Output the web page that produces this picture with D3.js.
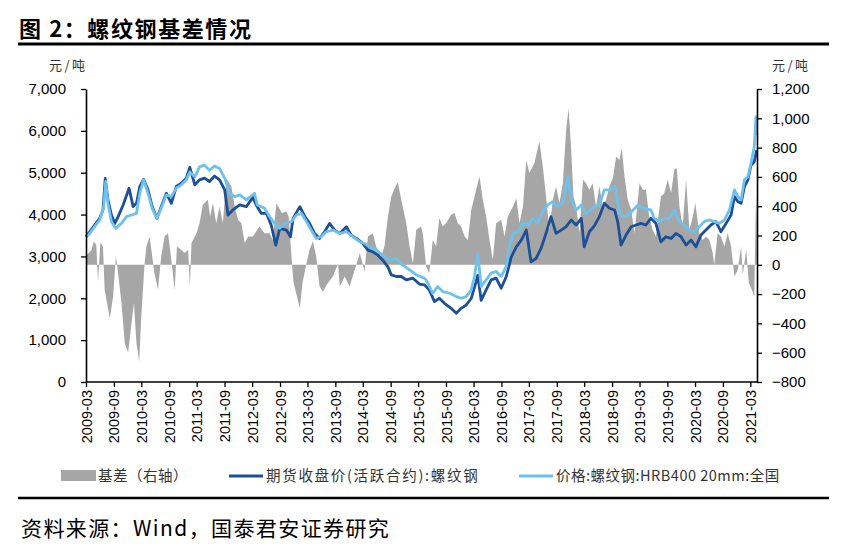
<!DOCTYPE html>
<html><head><meta charset="utf-8">
<script src="https://cdn.jsdelivr.net/npm/d3@7/dist/d3.min.js"></script>
<style>
body{margin:0;background:#fff;}
svg{display:block;}
text{font-family:"Liberation Sans",Arial,"Noto Sans CJK SC",sans-serif;}
.cjk{font-family:"Noto Sans CJK SC","Liberation Sans",sans-serif;}
</style></head>
<body>
<svg id="c" width="846" height="558"></svg>
<script>
const titleText = "图 2：螺纹钢基差情况";
const sourceText = "资料来源：Wind，国泰君安证券研究";
const unitText = "元/吨";
const legendLabels = ["基差（右轴）", "期货收盘价(活跃合约):螺纹钢", "价格:螺纹钢:HRB400 20mm:全国"];
const xTickLabels = ["2009-03","2009-09","2010-03","2010-09","2011-03","2011-09","2012-03","2012-09","2013-03","2013-09","2014-03","2014-09","2015-03","2015-09","2016-03","2016-09","2017-03","2017-09","2018-03","2018-09","2019-03","2019-09","2020-03","2020-09","2021-03"];
const leftTicks = [0,1000,2000,3000,4000,5000,6000,7000];
const rightTicks = [-800,-600,-400,-200,0,200,400,600,800,1000,1200];

// 期货收盘价(活跃合约):螺纹钢
const futures = [["2009-03-01",3470],["2009-03-25",3590],["2009-04-27",3750],["2009-05-30",3910],["2009-06-21",4110],["2009-07-06",4865],["2009-07-24",4350],["2009-08-16",3990],["2009-09-07",3790],["2009-09-29",3950],["2009-11-01",4230],["2009-12-10",4630],["2010-01-06",4190],["2010-01-28",4270],["2010-02-19",4670],["2010-03-16",4840],["2010-04-14",4590],["2010-05-12",4190],["2010-06-12",3910],["2010-07-10",4190],["2010-08-13",4510],["2010-09-15",4270],["2010-10-18",4670],["2010-11-20",4750],["2010-12-23",4870],["2011-01-15",5130],["2011-02-17",4710],["2011-03-20",4830],["2011-04-22",4870],["2011-05-25",4790],["2011-06-27",4920],["2011-07-30",4830],["2011-09-02",4590],["2011-09-24",3990],["2011-10-26",4110],["2011-12-10",4230],["2012-01-23",4190],["2012-03-06",4410],["2012-03-28",4230],["2012-04-30",4030],["2012-06-03",4030],["2012-07-05",3750],["2012-08-04",3270],["2012-08-30",3670],["2012-10-13",3630],["2012-11-09",3470],["2012-11-26",3910],["2013-01-10",4190],["2013-02-12",3950],["2013-03-15",3790],["2013-04-17",3550],["2013-05-20",3430],["2013-06-22",3590],["2013-07-25",3790],["2013-08-27",3630],["2013-09-30",3550],["2013-11-13",3710],["2013-12-15",3510],["2014-01-18",3430],["2014-03-01",3310],["2014-04-04",3150],["2014-05-06",3110],["2014-06-09",3030],["2014-07-11",2910],["2014-08-14",2750],["2014-09-05",2560],["2014-10-08",2520],["2014-11-10",2520],["2014-12-13",2440],["2015-01-26",2480],["2015-03-09",2340],["2015-04-12",2320],["2015-05-14",2200],["2015-06-17",1920],["2015-07-19",2000],["2015-08-22",1880],["2015-10-05",1760],["2015-11-08",1640],["2015-12-10",1760],["2016-01-13",1840],["2016-02-15",2000],["2016-03-18",2400],["2016-03-29",2550],["2016-04-20",1950],["2016-05-23",2200],["2016-06-25",2440],["2016-07-28",2480],["2016-08-30",2240],["2016-10-03",2520],["2016-11-05",2990],["2016-12-08",3230],["2017-01-10",3390],["2017-02-12",3630],["2017-03-15",2870],["2017-04-17",2950],["2017-05-20",3190],["2017-06-22",3550],["2017-07-25",3950],["2017-08-27",3550],["2017-09-30",3630],["2017-11-02",3710],["2017-12-05",3870],["2018-01-07",3750],["2018-02-10",3910],["2018-03-01",3230],["2018-04-04",3590],["2018-05-07",3730],["2018-06-09",3950],["2018-07-12",4270],["2018-08-14",4150],["2018-09-17",4110],["2018-10-08",3830],["2018-10-30",3270],["2018-12-02",3510],["2019-01-05",3710],["2019-02-07",3750],["2019-03-10",3790],["2019-04-12",3750],["2019-05-15",3910],["2019-06-17",3790],["2019-07-20",3350],["2019-08-22",3470],["2019-09-25",3430],["2019-10-27",3550],["2019-11-30",3470],["2020-01-02",3270],["2020-02-04",3390],["2020-03-07",3230],["2020-04-09",3510],["2020-05-12",3630],["2020-06-14",3750],["2020-07-17",3830],["2020-08-19",3590],["2020-09-22",3790],["2020-10-25",3990],["2020-11-16",4430],["2020-12-08",4310],["2020-12-30",4270],["2021-01-21",4670],["2021-02-13",4830],["2021-03-05",5180],["2021-03-27",5260],["2021-04-12",5540]];

// 价格:螺纹钢:HRB400 20mm:全国
const spot = [["2009-03-01",3450],["2009-03-25",3550],["2009-04-27",3710],["2009-05-30",3870],["2009-06-26",4190],["2009-07-09",4790],["2009-07-24",4270],["2009-08-16",3830],["2009-09-14",3670],["2009-10-21",3790],["2009-11-23",3950],["2009-12-26",3990],["2010-01-28",4030],["2010-02-19",4510],["2010-03-16",4830],["2010-04-14",4510],["2010-05-12",4150],["2010-06-12",3910],["2010-07-10",4150],["2010-08-13",4470],["2010-09-15",4430],["2010-10-18",4630],["2010-11-20",4710],["2010-12-23",4830],["2011-01-15",5020],["2011-02-17",4900],["2011-03-20",5140],["2011-04-22",5180],["2011-05-25",5060],["2011-06-27",5160],["2011-07-30",5100],["2011-09-02",4870],["2011-10-05",4510],["2011-11-07",4430],["2011-12-10",4470],["2012-01-23",4350],["2012-03-17",4510],["2012-04-03",4230],["2012-05-22",4150],["2012-06-24",3950],["2012-07-27",3790],["2012-08-30",3670],["2012-10-02",3790],["2012-11-16",3830],["2012-12-18",3990],["2013-01-20",4030],["2013-02-23",3830],["2013-03-26",3630],["2013-04-28",3430],["2013-05-30",3470],["2013-07-03",3590],["2013-08-16",3630],["2013-09-30",3550],["2013-11-13",3590],["2013-12-26",3470],["2014-02-10",3350],["2014-03-12",3310],["2014-04-14",3230],["2014-05-28",3150],["2014-07-11",3030],["2014-08-24",2910],["2014-10-08",2950],["2014-11-21",2790],["2015-01-04",2680],["2015-02-17",2560],["2015-04-12",2480],["2015-04-23",2440],["2015-06-06",2120],["2015-07-08",2280],["2015-08-11",2160],["2015-09-24",2120],["2015-11-08",2040],["2015-12-10",2000],["2016-01-13",2040],["2016-02-15",2200],["2016-03-07",2520],["2016-03-29",3070],["2016-04-20",2280],["2016-05-23",2440],["2016-06-25",2600],["2016-07-28",2640],["2016-08-30",2520],["2016-10-03",2760],["2016-10-24",3230],["2016-11-16",3550],["2016-12-18",3590],["2017-01-21",3790],["2017-02-23",3750],["2017-03-26",3910],["2017-04-28",3790],["2017-06-01",4070],["2017-07-03",4230],["2017-08-06",4310],["2017-09-08",4190],["2017-10-11",4270],["2017-11-13",4905],["2017-12-05",4350],["2018-01-07",4110],["2018-02-10",4230],["2018-03-13",4030],["2018-05-07",4190],["2018-06-09",4230],["2018-07-12",4590],["2018-08-14",4590],["2018-09-17",4670],["2018-09-28",4590],["2018-10-19",4030],["2018-11-13",3950],["2018-12-16",3990],["2019-01-18",4110],["2019-02-20",4230],["2019-03-23",4150],["2019-05-15",4110],["2019-06-06",3910],["2019-07-09",3830],["2019-08-11",3910],["2019-09-14",3910],["2019-10-16",4110],["2019-11-19",3830],["2019-12-21",3750],["2020-01-24",3630],["2020-02-26",3590],["2020-03-29",3710],["2020-05-01",3830],["2020-06-04",3870],["2020-07-06",3830],["2020-08-09",3790],["2020-09-11",3870],["2020-10-14",4110],["2020-11-16",4590],["2020-12-08",4430],["2020-12-30",4350],["2021-01-21",4830],["2021-02-13",4905],["2021-03-05",5220],["2021-03-27",5620],["2021-04-07",6340],["2021-04-12",5900]];

// 基差（右轴）
const basis = [["2009-03-01",-60],["2009-03-08",70],["2009-04-06",100],["2009-04-21",160],["2009-05-08",135],["2009-05-19",-115],["2009-06-04",150],["2009-06-21",125],["2009-07-02",-170],["2009-08-05",-365],["2009-08-27",-215],["2009-09-14",57],["2009-09-29",-57],["2009-10-21",-260],["2009-11-12",-535],["2009-12-04",-600],["2009-12-26",-400],["2010-01-11",-260],["2010-01-28",-535],["2010-02-15",-660],["2010-03-01",-350],["2010-03-22",0],["2010-04-03",125],["2010-04-25",193],["2010-05-12",57],["2010-05-27",-57],["2010-06-19",-170],["2010-07-10",57],["2010-08-02",193],["2010-08-24",216],["2010-09-15",34],["2010-10-07",-170],["2010-10-22",125],["2010-11-20",102],["2010-12-12",80],["2011-01-04",102],["2011-01-15",-148],["2011-01-26",148],["2011-02-28",216],["2011-03-20",284],["2011-04-11",410],["2011-05-14",444],["2011-05-29",330],["2011-06-16",420],["2011-07-08",284],["2011-07-30",398],["2011-08-21",284],["2011-09-13",590],["2011-10-16",535],["2011-11-07",398],["2011-11-29",307],["2011-12-21",284],["2012-01-12",148],["2012-02-04",193],["2012-03-06",193],["2012-04-19",262],["2012-05-22",216],["2012-06-24",216],["2012-07-16",170],["2012-08-08",420],["2012-09-13",353],["2012-10-13",364],["2012-10-28",330],["2012-11-22",-34],["2012-11-30",-125],["2012-12-22",-216],["2013-01-10",-296],["2013-01-27",-125],["2013-02-23",11],["2013-03-15",102],["2013-04-06",160],["2013-04-28",57],["2013-05-20",-148],["2013-06-11",-182],["2013-07-14",-125],["2013-08-16",-80],["2013-09-19",11],["2013-09-30",-148],["2013-11-02",-80],["2013-12-04",-148],["2014-01-07",-34],["2014-02-10",80],["2014-03-12",-45],["2014-04-04",193],["2014-05-06",216],["2014-05-28",125],["2014-07-01",57],["2014-07-22",125],["2014-08-14",330],["2014-09-05",466],["2014-10-08",546],["2014-10-19",560],["2014-11-10",444],["2014-12-13",284],["2015-01-04",125],["2015-01-26",11],["2015-02-17",239],["2015-03-20",262],["2015-04-01",216],["2015-04-23",-11],["2015-05-14",-57],["2015-06-06",170],["2015-06-28",125],["2015-07-19",318],["2015-08-11",262],["2015-09-02",284],["2015-10-05",341],["2015-10-27",353],["2015-11-18",284],["2015-12-10",262],["2016-01-02",193],["2016-01-24",170],["2016-02-15",375],["2016-03-18",512],["2016-04-09",603],["2016-05-01",444],["2016-05-23",330],["2016-06-14",170],["2016-07-06",34],["2016-07-28",284],["2016-08-30",307],["2016-09-22",193],["2016-10-13",330],["2016-11-16",398],["2016-12-08",455],["2016-12-29",284],["2017-01-21",398],["2017-02-12",716],["2017-03-04",626],["2017-04-06",694],["2017-05-09",842],["2017-06-01",671],["2017-06-22",466],["2017-07-14",239],["2017-08-06",444],["2017-08-27",535],["2017-09-19",421],["2017-10-11",557],["2017-11-02",921],["2017-11-18",1069],["2017-12-05",785],["2017-12-20",466],["2018-01-07",398],["2018-01-29",216],["2018-02-21",580],["2018-03-13",557],["2018-04-04",512],["2018-04-26",557],["2018-05-18",398],["2018-06-09",535],["2018-07-01",398],["2018-07-23",444],["2018-08-14",535],["2018-09-06",592],["2018-09-28",739],["2018-10-19",716],["2018-11-04",796],["2018-11-22",603],["2018-12-13",444],["2019-01-05",375],["2019-01-27",216],["2019-03-01",557],["2019-03-23",512],["2019-04-12",512],["2019-05-04",330],["2019-05-26",239],["2019-06-17",193],["2019-07-20",466],["2019-08-11",489],["2019-09-03",580],["2019-09-25",489],["2019-10-16",648],["2019-11-02",660],["2019-11-19",398],["2019-12-11",262],["2020-01-02",580],["2020-01-24",239],["2020-02-16",330],["2020-03-03",421],["2020-03-29",216],["2020-04-20",170],["2020-05-12",193],["2020-06-04",170],["2020-06-26",80],["2020-07-06",0],["2020-07-28",216],["2020-08-19",193],["2020-09-11",125],["2020-10-03",216],["2020-10-25",125],["2020-11-16",-80],["2020-12-08",-34],["2020-12-30",125],["2021-01-10",-68],["2021-02-02",102],["2021-02-19",-125],["2021-03-11",-170],["2021-03-27",-216],["2021-04-07",466],["2021-04-12",300]];

const parse = d3.timeParse("%Y-%m-%d");
const parseM = d3.timeParse("%Y-%m");
const svg = d3.select("#c");
const W = 846, H = 558;
const L = 86, R = 757, T = 89, B = 382;

svg.append("rect").attr("width", W).attr("height", H).attr("fill", "#fff");

const x = d3.scaleTime().domain([parse("2009-03-01"), parse("2021-04-14")]).range([L, R]);
const yL = d3.scaleLinear().domain([0, 7000]).range([B, T]);
const yR = d3.scaleLinear().domain([-800, 1200]).range([B, T]);

// title
svg.append("text").attr("class", "cjk").attr("x", 19).attr("y", 37)
  .attr("font-size", 22).attr("font-weight", 700).attr("letter-spacing", 1.6).attr("fill", "#000").text(titleText);
svg.append("line").attr("x1", 18).attr("x2", 829).attr("y1", 44).attr("y2", 44)
  .attr("stroke", "#000").attr("stroke-width", 3);

// basis area
const area = d3.area().x(d => x(parse(d[0]))).y0(yR(0)).y1(d => yR(d[1]));
svg.append("path").datum(basis).attr("d", area).attr("fill", "#a6a6a6");

const line = d3.line().x(d => x(parse(d[0]))).y(d => yL(d[1]));
svg.append("path").datum(futures).attr("d", line).attr("fill", "none")
  .attr("stroke", "#1d4f96").attr("stroke-width", 2.8).attr("stroke-linejoin", "round");
svg.append("path").datum(spot).attr("d", line).attr("fill", "none")
  .attr("stroke", "#6ec1ec").attr("stroke-width", 2.8).attr("stroke-linejoin", "round");

// axes
function styleAxis(g) {
  g.selectAll("path.domain").attr("stroke", "#000").attr("stroke-width", 1.6);
  g.selectAll(".tick line").attr("stroke", "#000").attr("stroke-width", 1.3);
  g.selectAll("text").attr("fill", "#000").style("font-family", '"Liberation Sans",Arial,sans-serif');
}
const gL = svg.append("g").attr("transform", `translate(${L},0)`)
  .call(d3.axisLeft(yL).tickValues(leftTicks).tickFormat(d3.format(",")).tickSize(5).tickPadding(15).tickSizeOuter(0));
styleAxis(gL); gL.selectAll("text").attr("font-size", 15);

const gR = svg.append("g").attr("transform", `translate(${R},0)`)
  .call(d3.axisRight(yR).tickValues(rightTicks).tickFormat(d3.format(",")).tickSize(5).tickPadding(10).tickSizeOuter(0));
styleAxis(gR); gR.selectAll("text").attr("font-size", 15);

const gB = svg.append("g").attr("transform", `translate(0,${B})`)
  .call(d3.axisBottom(x).tickValues(xTickLabels.map(parseM)).tickFormat(d3.timeFormat("%Y-%m")).tickSize(5).tickSizeOuter(0));
styleAxis(gB);
gB.select("path.domain").attr("d", `M${L},0H${R}`);
gB.selectAll(".tick text").attr("font-size", 14.5).attr("y", 0).attr("x", -8).attr("dy", "0.35em")
  .attr("transform", "rotate(-90)").style("text-anchor", "end");

// units
svg.append("text").attr("class", "cjk").attr("x", 49).attr("y", 70).attr("font-size", 13).attr("letter-spacing", 2.5).attr("fill", "#333").text(unitText);
svg.append("text").attr("class", "cjk").attr("x", 772).attr("y", 70).attr("font-size", 13).attr("letter-spacing", 2.5).attr("fill", "#333").text(unitText);

// legend
const lg = svg.append("g");
lg.append("rect").attr("x", 61).attr("y", 470).attr("width", 35).attr("height", 11).attr("fill", "#a6a6a6");
lg.append("text").attr("class", "cjk").attr("x", 98).attr("y", 481).attr("font-size", 14.5).attr("letter-spacing", 0.5).attr("fill", "#333").text(legendLabels[0]);
lg.append("line").attr("x1", 229).attr("x2", 263).attr("y1", 476).attr("y2", 476).attr("stroke", "#1d4f96").attr("stroke-width", 3);
lg.append("text").attr("class", "cjk").attr("x", 266).attr("y", 481).attr("font-size", 14.5).attr("letter-spacing", 1.7).attr("fill", "#333").text(legendLabels[1]);
lg.append("line").attr("x1", 519).attr("x2", 553).attr("y1", 476).attr("y2", 476).attr("stroke", "#6ec1ec").attr("stroke-width", 3);
lg.append("text").attr("class", "cjk").attr("x", 556).attr("y", 481).attr("font-size", 14.5).attr("letter-spacing", 0.5).attr("fill", "#333").text(legendLabels[2]);

svg.append("line").attr("x1", 18).attr("x2", 829).attr("y1", 498).attr("y2", 498)
  .attr("stroke", "#000").attr("stroke-width", 2.5);
svg.append("text").attr("class", "cjk").attr("x", 21).attr("y", 536)
  .attr("font-size", 21).attr("letter-spacing", 1.4).attr("fill", "#000").text(sourceText);
</script>
</body></html>
